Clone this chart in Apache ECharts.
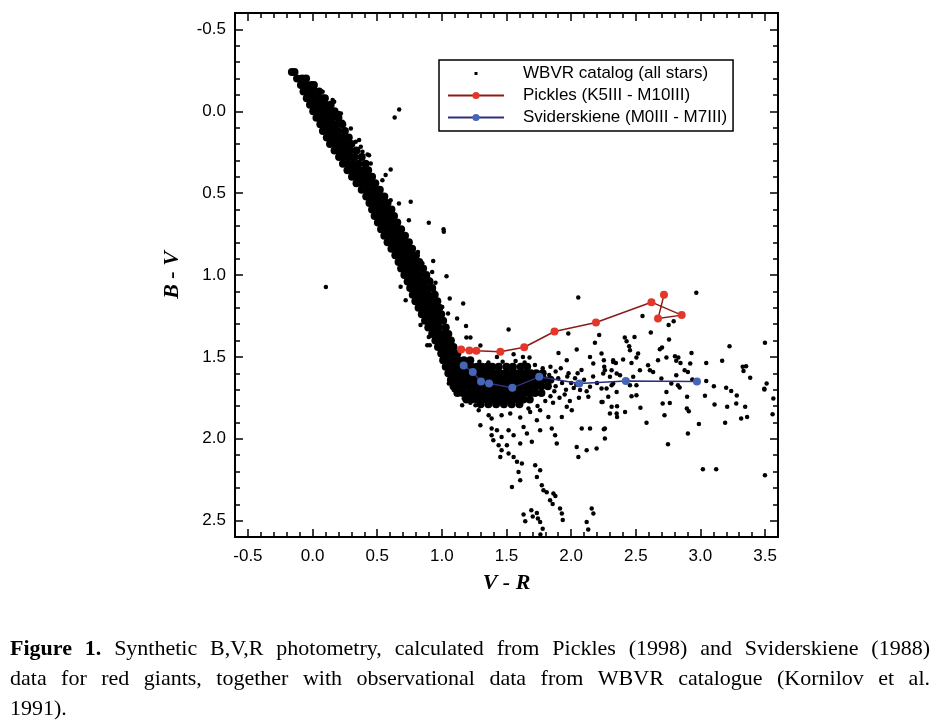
<!DOCTYPE html>
<html>
<head>
<meta charset="utf-8">
<script src="https://cdn.jsdelivr.net/npm/echarts@6.0.0/dist/echarts.min.js"></script>
<style>
html, body { margin: 0; padding: 0; background: #fff; }
#chart { width: 938px; height: 723px; }
</style>
</head>
<body>
<div id="chart"></div>
<script>
// ==============================================================
// data (V-R, B-V)
// ==============================================================
var picklesVR = [1.149, 1.213, 1.267, 1.452, 1.637, 1.871, 2.192, 2.621, 2.855, 2.672, 2.718];
var picklesBV = [1.455, 1.461, 1.463, 1.469, 1.441, 1.345, 1.290, 1.166, 1.245, 1.266, 1.121];

var sviderVR = [1.169, 1.239, 1.303, 1.365, 1.545, 1.753, 2.063, 2.423, 2.973];
var sviderBV = [1.553, 1.592, 1.650, 1.663, 1.689, 1.622, 1.663, 1.647, 1.650];

// solid part of the catalog (main sequence band + red giant clump), one row per B-V
var catalogCoreRows = [
  [-0.24, [-0.16, -0.14]],
  [-0.20, [-0.12, -0.08, -0.05]],
  [-0.16, [-0.09, -0.05, -0.01, 0.01]],
  [-0.12, [-0.07, -0.03, 0.01, 0.05]],
  [-0.08, [-0.045, -0.005, 0.035, 0.075, 0.095]],
  [-0.04, [-0.02, 0.02, 0.06, 0.10, 0.14]],
  [0.00, [0.005, 0.045, 0.085, 0.125, 0.17]],
  [0.04, [0.03, 0.07, 0.11, 0.15, 0.20]],
  [0.08, [0.06, 0.10, 0.14, 0.18, 0.23]],
  [0.12, [0.08, 0.12, 0.16, 0.20, 0.25]],
  [0.16, [0.11, 0.15, 0.19, 0.23, 0.28]],
  [0.20, [0.135, 0.175, 0.215, 0.255, 0.30]],
  [0.24, [0.17, 0.21, 0.25, 0.29, 0.34]],
  [0.28, [0.205, 0.245, 0.285, 0.325, 0.38]],
  [0.32, [0.235, 0.275, 0.315, 0.355, 0.41]],
  [0.36, [0.27, 0.31, 0.35, 0.39, 0.43]],
  [0.40, [0.305, 0.345, 0.385, 0.425, 0.46]],
  [0.44, [0.34, 0.38, 0.42, 0.46, 0.485]],
  [0.48, [0.38, 0.42, 0.46, 0.50, 0.52]],
  [0.52, [0.415, 0.455, 0.495, 0.535, 0.555]],
  [0.56, [0.44, 0.48, 0.52, 0.56, 0.58]],
  [0.60, [0.46, 0.50, 0.54, 0.58, 0.61]],
  [0.64, [0.48, 0.52, 0.56, 0.60, 0.63]],
  [0.68, [0.505, 0.545, 0.585, 0.625, 0.655]],
  [0.72, [0.53, 0.57, 0.61, 0.65, 0.685]],
  [0.76, [0.555, 0.595, 0.635, 0.675, 0.715]],
  [0.80, [0.58, 0.62, 0.66, 0.70, 0.745]],
  [0.84, [0.61, 0.65, 0.69, 0.73, 0.77]],
  [0.88, [0.64, 0.68, 0.72, 0.76, 0.80]],
  [0.92, [0.665, 0.705, 0.745, 0.785, 0.825]],
  [0.96, [0.685, 0.725, 0.765, 0.805, 0.855]],
  [1.00, [0.71, 0.75, 0.79, 0.83, 0.88]],
  [1.04, [0.735, 0.775, 0.815, 0.855, 0.905]],
  [1.08, [0.755, 0.795, 0.835, 0.875, 0.925]],
  [1.12, [0.775, 0.815, 0.855, 0.895, 0.945]],
  [1.16, [0.795, 0.835, 0.875, 0.915, 0.965]],
  [1.20, [0.82, 0.86, 0.90, 0.94, 0.98]],
  [1.24, [0.845, 0.885, 0.925, 0.965, 0.995]],
  [1.28, [0.87, 0.91, 0.95, 0.99, 1.01]],
  [1.32, [0.895, 0.935, 0.975, 1.03]],
  [1.36, [0.925, 0.965, 1.005, 1.05]],
  [1.40, [0.95, 0.99, 1.03, 1.07]],
  [1.44, [0.97, 1.01, 1.05, 1.09]],
  [1.48, [0.995, 1.035, 1.075, 1.12]],
  [1.52, [1.01, 1.05, 1.09, 1.13, 1.17, 1.22]],
  [1.56, [1.03, 1.07, 1.11, 1.15, 1.19, 1.23, 1.27, 1.31, 1.35, 1.39, 1.44, 1.50, 1.55, 1.61, 1.66]],
  [1.60, [1.05, 1.09, 1.13, 1.17, 1.21, 1.25, 1.29, 1.33, 1.37, 1.41, 1.45, 1.49, 1.53, 1.57, 1.61, 1.65, 1.69, 1.73, 1.78]],
  [1.64, [1.07, 1.11, 1.15, 1.19, 1.23, 1.27, 1.31, 1.35, 1.39, 1.43, 1.47, 1.51, 1.55, 1.59, 1.63, 1.67, 1.71, 1.75, 1.79, 1.84]],
  [1.68, [1.09, 1.13, 1.17, 1.21, 1.25, 1.29, 1.33, 1.37, 1.41, 1.45, 1.49, 1.53, 1.57, 1.61, 1.65, 1.69, 1.73, 1.77, 1.82]],
  [1.72, [1.12, 1.16, 1.20, 1.24, 1.28, 1.32, 1.36, 1.40, 1.44, 1.48, 1.52, 1.56, 1.60, 1.64, 1.68, 1.72, 1.77]],
  [1.76, [1.19, 1.23, 1.27, 1.31, 1.35, 1.39, 1.43, 1.47, 1.51, 1.55, 1.59, 1.63, 1.68]],
  [1.79, [1.30, 1.36, 1.42, 1.48, 1.54, 1.60]]
];

// individual stars around the band and clump
var catalogDots = [
  [0.670, -0.010], [0.635, 0.038], [0.103, 1.074],
  [0.604, 0.355], [0.565, 0.390], [0.540, 0.421], [0.668, 0.563], [0.759, 0.553], [0.745, 0.665],
  [0.899, 0.681], [1.013, 0.720], [0.450, 0.319], [0.425, 0.264], [0.360, 0.176], [0.296, 0.105],
  [0.219, 0.013], [0.155, -0.068], [0.078, -0.119], [0.167, -0.058], [0.203, 0.011], [0.232, 0.064],
  [0.334, 0.186], [0.373, 0.217], [0.386, 0.248], [0.437, 0.268], [0.604, 0.543],
  [1.015, 0.736], [0.681, 0.758], [0.815, 0.859], [0.849, 0.929], [0.933, 0.915], [0.925, 0.981],
  [1.036, 1.007], [0.907, 1.027], [0.951, 1.048], [0.681, 1.072], [0.720, 1.154], [0.938, 1.093],
  [0.933, 1.134], [1.061, 1.143], [1.003, 1.195], [1.165, 1.174], [1.048, 1.235], [1.118, 1.265],
  [0.835, 1.305], [1.187, 1.312], [0.899, 1.378], [1.190, 1.381], [1.221, 1.381], [1.516, 1.333],
  [0.907, 1.429], [1.298, 1.431], [1.426, 1.500], [1.555, 1.484], [1.627, 1.500], [1.678, 1.504],
  [0.887, 1.429], [1.054, 1.663], [1.092, 1.703], [1.169, 1.754],
  [2.217, 1.366], [2.184, 1.414], [2.043, 1.455], [1.902, 1.476], [1.966, 1.520], [2.146, 1.500],
  [2.235, 1.479], [2.325, 1.531], [2.261, 1.581], [2.171, 1.540], [2.352, 1.601], [2.313, 1.673],
  [2.235, 1.693], [2.146, 1.683], [2.069, 1.703], [2.133, 1.744], [2.235, 1.775], [2.313, 1.805],
  [2.352, 1.846], [2.300, 1.846], [1.928, 1.867], [2.005, 1.826], [1.966, 1.805],
  [1.92, 1.57], [1.98, 1.60], [2.03, 1.63], [2.08, 1.58], [2.10, 1.64], [2.02, 1.69], [1.95, 1.73],
  [2.17, 1.62], [2.20, 1.66], [2.06, 1.75], [1.99, 1.77], [2.12, 1.71],
  [1.72, 1.55], [1.78, 1.57], [1.84, 1.56], [1.88, 1.59], [1.83, 1.61], [1.90, 1.63], [1.93, 1.66],
  [1.88, 1.68], [1.87, 1.71], [1.84, 1.74], [1.97, 1.62], [2.00, 1.66], [1.96, 1.70], [1.91, 1.75],
  [1.86, 1.78], [1.80, 1.77], [1.74, 1.80], [1.67, 1.815], [1.26, 1.795], [1.22, 1.78],
  [1.64, 1.535], [1.47, 1.53], [1.36, 1.535], [1.29, 1.53], [1.57, 1.525], [2.05, 1.60], [2.04, 1.67],
  [1.157, 1.795], [1.285, 1.826], [1.362, 1.856], [1.298, 1.917], [1.385, 1.876], [1.462, 1.856],
  [1.529, 1.846], [1.606, 1.870], [1.683, 1.836], [1.760, 1.826], [1.824, 1.867], [1.735, 1.887],
  [1.632, 1.928], [1.516, 1.948], [1.426, 1.948], [1.385, 1.978], [1.462, 1.989], [1.555, 1.978],
  [1.658, 1.968], [1.760, 1.948], [1.850, 1.937], [1.876, 1.978], [1.889, 2.029], [1.696, 2.019],
  [1.606, 2.029], [1.503, 2.039], [1.439, 2.039], [1.516, 2.090], [1.555, 2.111], [1.581, 2.141],
  [1.619, 2.151], [1.593, 2.203], [1.722, 2.162], [1.760, 2.192], [1.735, 2.233], [2.082, 1.937],
  [2.146, 1.937], [2.261, 1.937], [2.261, 1.998], [2.043, 2.050], [2.120, 2.070], [2.197, 2.060],
  [2.056, 2.111], [1.773, 2.284], [1.786, 2.314], [1.863, 2.334], [1.837, 2.375], [1.914, 2.426],
  [1.928, 2.457], [2.159, 2.426], [1.632, 2.463], [1.692, 2.436], [1.735, 2.453], [1.760, 2.508],
  [2.120, 2.508], [1.385, 1.937], [1.398, 2.009], [1.462, 2.070], [1.452, 2.111], [1.606, 2.253],
  [1.542, 2.294], [1.811, 2.326], [1.878, 2.350], [1.857, 2.398], [1.935, 2.496], [1.645, 2.504],
  [1.703, 2.475], [1.743, 2.487], [1.780, 2.550], [1.762, 2.585], [2.132, 2.554], [2.172, 2.457],
  [2.968, 1.109], [2.552, 1.251], [2.793, 1.282], [2.754, 1.306], [2.616, 1.351], [2.415, 1.381],
  [2.490, 1.378], [2.429, 1.404], [2.757, 1.394], [3.225, 1.435], [3.499, 1.414], [2.449, 1.435],
  [2.455, 1.459], [2.686, 1.453], [2.703, 1.443], [2.518, 1.479], [2.505, 1.504], [2.931, 1.476],
  [2.803, 1.496], [2.829, 1.504], [2.737, 1.504], [2.672, 1.520], [2.325, 1.520], [2.253, 1.520],
  [2.402, 1.516], [2.346, 1.537], [2.467, 1.537], [2.595, 1.551], [2.813, 1.524], [2.846, 1.537],
  [2.921, 1.541], [3.045, 1.537], [3.168, 1.524], [3.327, 1.561], [3.353, 1.557], [3.333, 1.586],
  [3.385, 1.628], [2.256, 1.561], [2.313, 1.581], [2.532, 1.581], [2.609, 1.581], [2.634, 1.592],
  [2.878, 1.581], [2.903, 1.592], [2.248, 1.601], [2.300, 1.622], [2.378, 1.612], [2.480, 1.622],
  [2.698, 1.632], [2.813, 1.612], [2.937, 1.638], [3.045, 1.647], [2.325, 1.663], [2.455, 1.673],
  [2.505, 1.673], [2.775, 1.663], [2.826, 1.673], [2.839, 1.687], [3.104, 1.679], [3.199, 1.689],
  [3.238, 1.708], [3.281, 1.736], [3.495, 1.699], [3.564, 1.754], [2.274, 1.693], [2.352, 1.714],
  [2.287, 1.744], [2.467, 1.740], [2.505, 1.734], [2.737, 1.714], [2.897, 1.744], [3.035, 1.738],
  [2.243, 1.775], [2.355, 1.801], [2.536, 1.811], [2.708, 1.785], [2.763, 1.781], [2.895, 1.815],
  [2.910, 1.832], [3.109, 1.791], [3.207, 1.805], [3.277, 1.785], [3.346, 1.805], [3.558, 1.850],
  [2.355, 1.867], [2.417, 1.836], [2.722, 1.856], [3.315, 1.876], [3.361, 1.867], [2.583, 1.902],
  [3.191, 1.902], [2.988, 1.910], [2.253, 1.942], [2.903, 1.968], [2.749, 2.033], [3.019, 2.186],
  [3.122, 2.186], [3.499, 2.223], [2.055, 1.137], [1.978, 1.357], [3.512, 1.663], [3.494, 1.695]
];

var xMajorTicks = [-0.5, 0, 0.5, 1.0, 1.5, 2.0, 2.5, 3.0, 3.5];
var yMajorTicks = [-0.5, 0, 0.5, 1.0, 1.5, 2.0, 2.5];

var seriesNames = ['WBVR catalog (all stars)', 'Pickles (K5III - M10III)', 'Sviderskiene (M0III - M7III)'];

var captionLines = [
  [['Figure', 1], ['1.', 1], 'Synthetic', 'B,V,R', 'photometry,', 'calculated', 'from', 'Pickles', '(1998)', 'and', 'Sviderskiene', '(1988)'],
  ['data', 'for', 'red', 'giants,', 'together', 'with', 'observational', 'data', 'from', 'WBVR', 'catalogue', '(Kornilov', 'et', 'al.'],
  ['1991).']
];

// ==============================================================
var catalogCore = [];
catalogCoreRows.forEach(function (r) {
  r[1].forEach(function (x) { catalogCore.push([x, r[0]]); });
});
function zip(a, b) { return a.map(function (v, i) { return [v, b[i]]; }); }

var xMinorTicks = [], yMinorTicks = [];
for (var i = -5; i <= 35; i++) xMinorTicks.push(i / 10);
for (var j = -5; j <= 25; j++) yMinorTicks.push(j / 10);

// caption, justified word by word
var FS = 22, capLeft = 10, capRight = 930;
var capMid = [649, 679, 709];
var measure = document.createElement('canvas').getContext('2d');
function capFont(b) { return (b ? 'bold ' : '') + FS + 'px "Liberation Serif", "Times New Roman", serif'; }
var caption = [];
captionLines.forEach(function (line, li) {
  var words = line.map(function (w) { return typeof w === 'string' ? { t: w, b: 0 } : { t: w[0], b: w[1] }; });
  var ws = words.map(function (w) { measure.font = capFont(w.b); return measure.measureText(w.t).width; });
  measure.font = capFont(0);
  var space = measure.measureText(' ').width;
  var total = ws.reduce(function (a, b) { return a + b; }, 0);
  var gap = (li < 2) ? (capRight - capLeft - total) / (words.length - 1) : space;
  var x = capLeft;
  words.forEach(function (w, k) {
    caption.push({ type: 'text', x: x, y: capMid[li], silent: true,
      style: { text: w.t, font: capFont(w.b), fill: '#000', verticalAlign: 'middle' } });
    x += ws[k] + gap;
  });
});

var black = '#000';
var labelFont = { fontSize: 17, color: black, fontFamily: 'Liberation Sans, Arial, sans-serif' };
var titleFont = { fontSize: 22, color: black, fontFamily: 'Liberation Serif, Times New Roman, serif', fontWeight: 'bold', fontStyle: 'italic' };

function frameAxis(pos, major, isY, opts) {
  var a = {
    type: 'value', position: pos, min: -0.6, max: isY ? 2.6 : 3.6, inverse: !!isY,
    axisLine: { show: true, onZero: false, lineStyle: { color: black, width: 2 } },
    axisTick: { show: true, inside: true, length: major ? 8 : 5, customValues: major ? (isY ? yMajorTicks : xMajorTicks) : (isY ? yMinorTicks : xMinorTicks), lineStyle: { color: black, width: 1.5 } },
    axisLabel: { show: false },
    splitLine: { show: false }
  };
  return Object.assign(a, opts || {});
}

var xAxes = [
  frameAxis('bottom', true, false, {
    axisLabel: Object.assign({ show: true, customValues: xMajorTicks, margin: 11, formatter: function (v) { return v.toFixed(1); } }, labelFont),
    name: 'V - R', nameLocation: 'middle', nameGap: 35, nameTextStyle: titleFont
  }),
  frameAxis('bottom', false, false),
  frameAxis('top', true, false),
  frameAxis('top', false, false)
];
var yAxes = [
  frameAxis('left', true, true, {
    axisLabel: Object.assign({ show: true, customValues: yMajorTicks, margin: 9, formatter: function (v) { return v.toFixed(1); } }, labelFont),
    name: 'B - V', nameLocation: 'middle', nameGap: 52, nameTextStyle: titleFont
  }),
  frameAxis('left', false, true),
  frameAxis('right', true, true),
  frameAxis('right', false, true)
];

var myChart = echarts.init(document.getElementById('chart'));

var option = {
  animation: false,
  backgroundColor: '#fff',
  grid: { left: 235, top: 13, width: 543, height: 524, outerBoundsMode: 'none' },
  xAxis: xAxes,
  yAxis: yAxes,
  legend: {
    orient: 'vertical', left: 439, top: 60,
    padding: [5, 6, 5, 8], itemGap: 5, itemWidth: 56, itemHeight: 9,
    borderColor: black, borderWidth: 1.5, borderRadius: 0, backgroundColor: '#fff',
    textStyle: { fontSize: 17, color: black, fontFamily: 'Liberation Sans, Arial, sans-serif', padding: [0, 0, 0, 14] },
    data: [
      { name: seriesNames[0], icon: 'path://M0,0 M56,9 M26.5,3 L29.5,3 L29.5,6 L26.5,6 Z', itemStyle: { color: black } },
      seriesNames[1],
      seriesNames[2]
    ],
    selectedMode: false
  },
  graphic: caption,
  series: [
    {
      name: seriesNames[0], type: 'scatter', data: catalogDots,
      symbol: 'circle', symbolSize: 4.5, itemStyle: { color: black, opacity: 1 },
      emphasis: { disabled: true }
    },
    {
      name: seriesNames[0], type: 'scatter', data: catalogCore,
      symbol: 'circle', symbolSize: 8, itemStyle: { color: black, opacity: 1 },
      emphasis: { disabled: true }
    },
    {
      name: seriesNames[1], type: 'line', data: zip(picklesVR, picklesBV),
      symbol: 'circle', symbolSize: 8, showSymbol: true,
      lineStyle: { color: '#8E1B17', width: 1.5 }, itemStyle: { color: '#E4372B' },
      emphasis: { disabled: true }
    },
    {
      name: seriesNames[2], type: 'line', data: zip(sviderVR, sviderBV),
      symbol: 'circle', symbolSize: 8, showSymbol: true,
      lineStyle: { color: '#2F2F7F', width: 1.5 }, itemStyle: { color: '#4565B5' },
      emphasis: { disabled: true }
    }
  ]
};

myChart.setOption(option, true);
</script>
</body>
</html>
